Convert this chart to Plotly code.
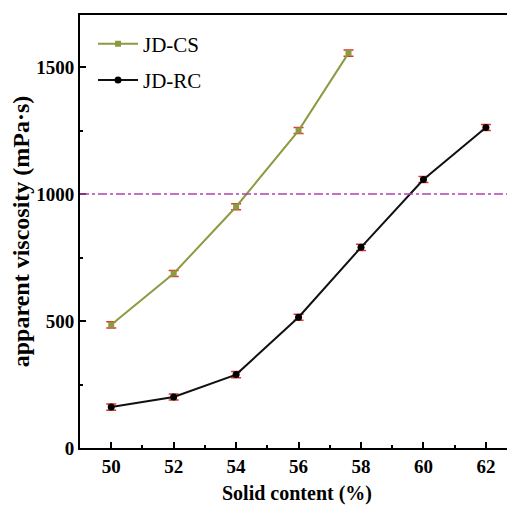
import plotly.graph_objects as go

cs_x = [50, 52, 54, 56, 57.6]
cs_y = [485, 687, 950, 1250, 1555]
cs_err = [12, 12, 12, 12, 12]
rc_x = [50, 52, 54, 56, 58, 60, 62]
rc_y = [161, 201, 289, 515, 790, 1057, 1262]
rc_err = [12, 12, 12, 12, 12, 12, 12]
ref_level = 1000
x_ticks = [50, 52, 54, 56, 58, 60, 62]
y_ticks = [0, 500, 1000, 1500]

font = "Liberation Serif, Times New Roman, serif"
fig = go.Figure()
fig.add_trace(go.Scatter(
    x=cs_x, y=cs_y, name="JD-CS", mode="lines+markers", legendgroup="a",
    line=dict(color="#8c9a42", width=2),
    marker=dict(symbol="square", size=6, color="#8c9a42"),
    error_y=dict(type="data", array=cs_err, color="#e8302a", thickness=1.5, width=5),
))
fig.add_trace(go.Scatter(
    x=rc_x, y=rc_y, name="JD-RC", mode="lines+markers", legendgroup="b",
    line=dict(color="#111111", width=2),
    marker=dict(symbol="circle", size=7, color="#000000"),
    error_y=dict(type="data", array=rc_err, color="#e8302a", thickness=1.5, width=5),
))
fig.add_hline(y=ref_level, line=dict(color="#b040b0", width=1.5, dash="dashdot"))

axis_common = dict(
    showline=True, linecolor="black", linewidth=2,
    ticks="inside", ticklen=6, tickwidth=2, tickcolor="black",
    showgrid=False, zeroline=False, automargin=False,
    tickfont=dict(family=font, size=19, color="black", weight="bold"),
)
fig.update_xaxes(range=[49, 62.9], tickvals=x_ticks, mirror=True,
                 title=dict(text="Solid content (%)", font=dict(family=font, size=20, color="black", weight="bold"), standoff=10),
                 minor=dict(tickvals=[51, 53, 55, 57, 59, 61], ticks="inside", ticklen=3, tickwidth=2, tickcolor="black"),
                 **axis_common)
fig.update_yaxes(range=[0, 1705], tickvals=y_ticks, mirror=False,
                 title=dict(text="apparent viscosity (mPa·s)", font=dict(family=font, size=24, color="black", weight="bold"), standoff=8),
                 minor=dict(tickvals=[250, 750, 1250], ticks="inside", ticklen=3, tickwidth=2, tickcolor="black"),
                 **axis_common)
fig.add_shape(type="line", xref="paper", yref="paper", x0=1, x1=1, y0=0, y1=1,
              line=dict(color="#d0d0d0", width=1))
fig.update_layout(
    width=507, height=501,
    margin=dict(l=72, r=1, t=7, b=61),
    font=dict(family=font, color="black"),
    plot_bgcolor="white", paper_bgcolor="white",
    legend=dict(x=0.03, y=0.98, xanchor="left", yanchor="top", traceorder="grouped",
                font=dict(family=font, size=21, color="black"),
                bgcolor="rgba(0,0,0,0)", itemwidth=40, tracegroupgap=6),
)
fig.write_html("out.html")
